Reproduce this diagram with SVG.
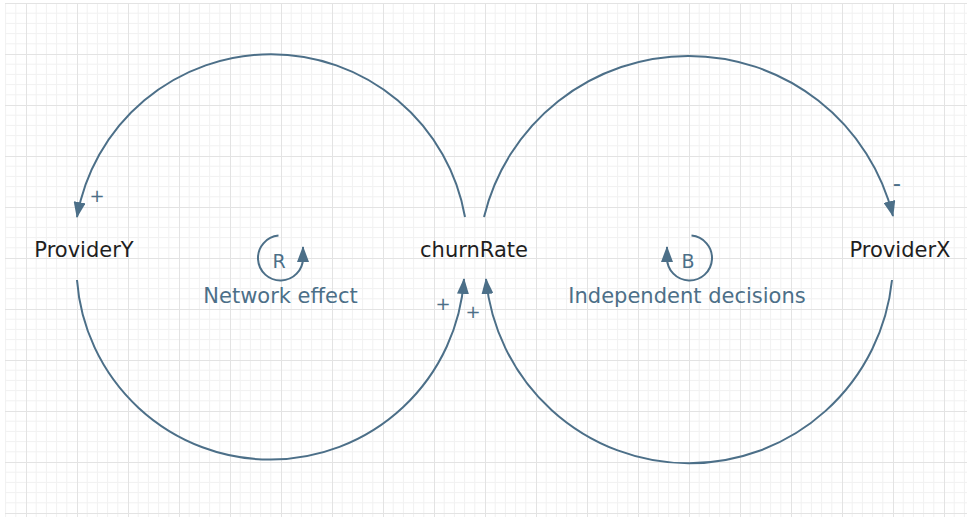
<svg xmlns="http://www.w3.org/2000/svg" width="967" height="517" viewBox="0 0 967 517">
<style>
.node text{font-family:"DejaVu Sans",sans-serif;font-size:21px;fill:#1e1e1e;text-anchor:middle}
.link{fill:none;stroke:#4c6f88;stroke-width:2;marker-end:url(#arrow)}
.pol{font-family:"DejaVu Sans",sans-serif;font-size:18px;fill:#4c6f88;text-anchor:middle}
.pol.neg{font-size:23px}
.loop path{fill:none;stroke:#4c6f88;stroke-width:2;marker-end:url(#arrow)}
.loop text{font-family:"DejaVu Sans",sans-serif;fill:#4c6f88;text-anchor:middle}
.loop .sym{font-size:19px}
.loop .lbl{font-size:21px}
</style>
<defs>
<pattern id="grid" x="26" y="3" width="51" height="51" patternUnits="userSpaceOnUse">
<path d="M10.2 0V51M20.4 0V51M30.6 0V51M40.8 0V51M0 10.2H51M0 20.4H51M0 30.6H51M0 40.8H51" stroke="#f1f1f1" stroke-width="1" fill="none"/>
<path d="M0.5 0V51M0 0.5H51" stroke="#e3e3e3" stroke-width="1" fill="none"/>
</pattern>
<marker id="arrow" markerUnits="userSpaceOnUse" markerWidth="16" markerHeight="12" refX="15" refY="6" orient="auto">
<path d="M0 0L16 6L0 12z" fill="#4c6f88"/>
</marker>
</defs>
<rect width="967" height="517" fill="#ffffff"/>
<rect x="5" y="3" width="962" height="514" fill="url(#grid)"/>
<g id="connectors">
<path class="link" d="M465 217A197 197 0 0 0 77 217"/>
<path class="link" d="M77 280A194 194 0 0 0 464 279"/>
<path class="link" d="M484 217A210.5 210.5 0 0 1 893 216"/>
<path class="link" d="M892 280A204 204 0 0 1 486 279"/>
<text class="pol" x="97" y="202">+</text>
<text class="pol neg" x="897" y="190.5">-</text>
<text class="pol" x="443" y="310">+</text>
<text class="pol" x="473" y="318">+</text>
</g>
<g id="ProviderY" class="node"><text x="84" y="257">ProviderY</text></g>
<g id="churnRate" class="node"><text x="474" y="257">churnRate</text></g>
<g id="ProviderX" class="node"><text x="900" y="257">ProviderX</text></g>
<g id="loopR" class="loop">
<path d="M278.5 235.6A22.5 22.5 0 1 0 303 258L303 247"/>
<text class="sym" x="279" y="268">R</text>
<text class="lbl" x="280.5" y="302.5">Network effect</text>
</g>
<g id="loopB" class="loop">
<path d="M691.5 235.6A22.5 22.5 0 1 1 667 258L667 247"/>
<text class="sym" x="688" y="268">B</text>
<text class="lbl" x="687" y="302.5">Independent decisions</text>
</g>
</svg>
